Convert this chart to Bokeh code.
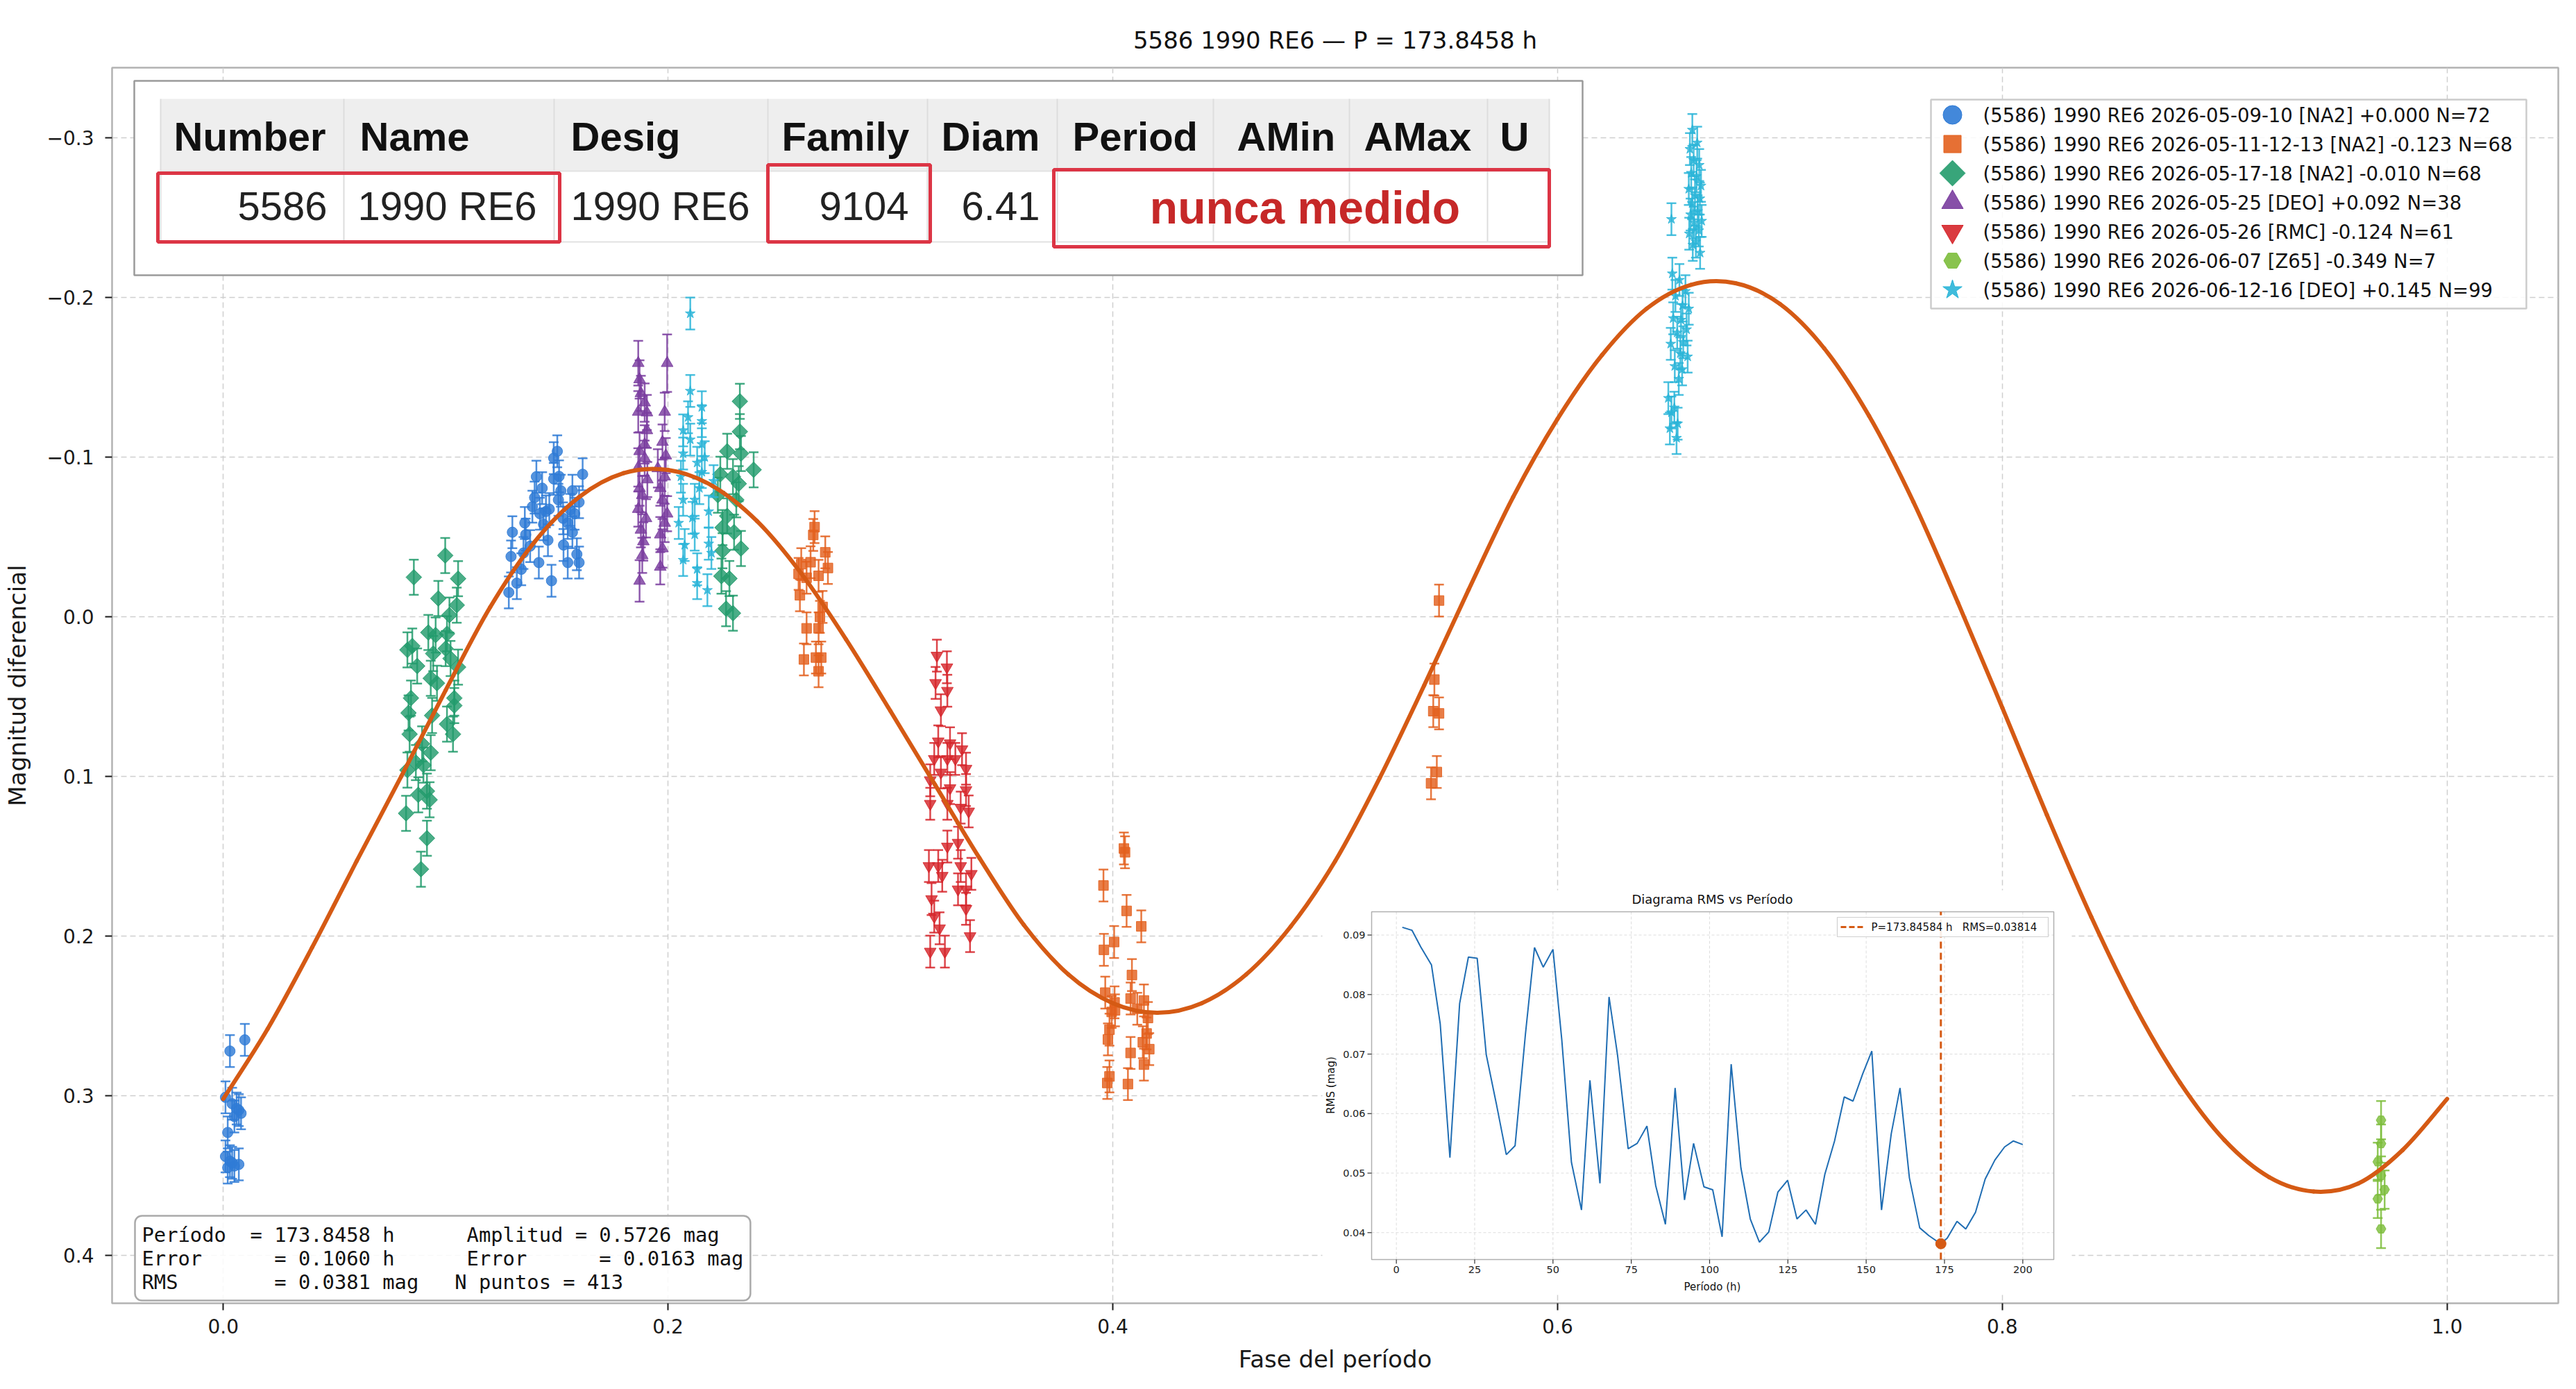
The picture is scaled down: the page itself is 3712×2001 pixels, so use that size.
import numpy as np
from bokeh.plotting import figure
from bokeh.models import Range1d, FixedTicker, Label
from bokeh.core.properties import value
from bokeh.embed import file_html
from bokeh.resources import INLINE

# ------------------------------------------------------------------ data
TITLE = "5586 1990 RE6 — P = 173.8458 h"
X_LABEL = "Fase del período"
Y_LABEL = "Magnitud diferencial"
X_TICKS = [0.0, 0.2, 0.4, 0.6, 0.8, 1.0]
X_TICK_LABELS = ["0.0", "0.2", "0.4", "0.6", "0.8", "1.0"]
Y_TICKS = [-0.3, -0.2, -0.1, 0.0, 0.1, 0.2, 0.3, 0.4]
Y_TICK_LABELS = ["−0.3", "−0.2", "−0.1", "0.0", "0.1", "0.2", "0.3", "0.4"]

BLUE_PHASE = [0.003, 0.0097, 0.001, 0.004, 0.006, 0.008, 0.005, 0.007, 0.002, 0.001, 0.003, 0.005, 0.007, 0.002, 0.004,
              0.1284, 0.132, 0.1294, 0.130, 0.1356, 0.139, 0.140, 0.1408, 0.1434, 0.1419,
              0.1476, 0.1451, 0.1486, 0.1502, 0.1486, 0.1507, 0.1549, 0.1549, 0.157, 0.159,
              0.160, 0.1616, 0.160, 0.157, 0.1528, 0.136, 0.134, 0.138, 0.1424, 0.1466,
              0.1518, 0.158, 0.146, 0.153, 0.144, 0.135, 0.151, 0.156]
BLUE_MAG = [0.272, 0.265, 0.301, 0.305, 0.308, 0.311, 0.313, 0.309, 0.323, 0.338, 0.341, 0.344, 0.343, 0.345, 0.342,
            -0.0153, -0.0211, -0.0378, -0.053, -0.0588, -0.069, -0.0747, -0.0878, -0.0806, -0.034,
            -0.0226, -0.066, -0.0864, -0.1037, -0.0994, -0.0733, -0.0588, -0.034, -0.079, -0.0392,
            -0.034, -0.0893, -0.0718, -0.053, -0.0617, -0.0515, -0.0298, -0.0443, -0.0646, -0.0675,
            -0.079, -0.0646, -0.048, -0.045, -0.058, -0.040, -0.088, -0.067]
BLUE_ERR = 0.010

ORANGE_PHASE = [0.2653, 0.2659, 0.2707, 0.2599, 0.2641, 0.2719, 0.2587, 0.2623, 0.2677, 0.2593, 0.2695, 0.2683,
                0.2623, 0.2677, 0.2611, 0.2665, 0.2689, 0.2677,
                0.4050, 0.3958, 0.4062, 0.4128, 0.3960, 0.4006, 0.4086, 0.3966, 0.4008, 0.4080, 0.4140, 0.4158,
                0.3985, 0.3978, 0.4152, 0.4080, 0.4164, 0.4140, 0.3985, 0.4068, 0.4055, 0.3975, 0.4010, 0.4110,
                0.4135, 0.3995,
                0.5467, 0.5446, 0.5441, 0.5467, 0.5457, 0.5431]
ORANGE_MAG = [-0.0513, -0.0562, -0.0404, -0.0330, -0.0342, -0.0306, -0.0269, -0.0245, -0.0257, -0.0135, -0.0062, 0.0000,
              0.0072, 0.0072, 0.0267, 0.0255, 0.0255, 0.0341,
              0.1451, 0.1683, 0.1842, 0.1939, 0.2086, 0.2037, 0.2244, 0.2354, 0.2415, 0.2391, 0.2403, 0.2513,
              0.2586, 0.2647, 0.2610, 0.2732, 0.2708, 0.2805, 0.2879, 0.2927, 0.1475, 0.2920, 0.2465, 0.2455,
              0.2665, 0.2475,
              -0.0102, 0.0393, 0.0591, 0.0605, 0.0972, 0.1043]
ORANGE_ERR = 0.010

GREEN_PHASE = [0.0998, 0.0857, 0.1056, 0.0967, 0.1050, 0.1017, 0.0922, 0.0955, 0.1006, 0.0828, 0.0850, 0.0944,
               0.1000, 0.1022, 0.0872, 0.1056, 0.0933, 0.0961, 0.0844, 0.1039, 0.0833, 0.0939, 0.1039, 0.1006,
               0.0838, 0.1033, 0.0894, 0.0933, 0.0866, 0.0828, 0.0900, 0.0877, 0.0916, 0.0928, 0.0822, 0.0916, 0.0889,
               0.2323, 0.2323, 0.2266, 0.2328, 0.2385, 0.2235, 0.2292, 0.2318, 0.2224, 0.2307, 0.2266, 0.2245,
               0.2297, 0.2328, 0.2245, 0.2276, 0.2240, 0.2261, 0.2292]
GREEN_MAG = [-0.0384, -0.0248, -0.0239, -0.0115, -0.0073, -0.0011, 0.0098, 0.0114, 0.0106, 0.0207, 0.0183, 0.0230,
             0.0199, 0.0261, 0.0308, 0.0315, 0.0385, 0.0416, 0.0509, 0.0509, 0.0602, 0.0618, 0.0556, 0.0672,
             0.0735, 0.0735, 0.0796, 0.0851, 0.0913, 0.0960, 0.0929, 0.1115, 0.1092, 0.1146, 0.1231, 0.1387, 0.1581,
             -0.1350, -0.1160, -0.1037, -0.1023, -0.0921, -0.0893, -0.0878, -0.0834, -0.0762, -0.0733, -0.0632, -0.0559,
             -0.0530, -0.0428, -0.0414, -0.0240, -0.0255, -0.0051, -0.0023]
GREEN_ERR = 0.011

PURPLE_PHASE = [0.1866, 0.1872, 0.1878, 0.1895, 0.1866, 0.1905, 0.1872, 0.1895, 0.1866, 0.1872, 0.1884, 0.1866,
                0.1901, 0.1878, 0.1889, 0.1884, 0.1872, 0.1905, 0.1895, 0.1907,
                0.1996, 0.1985, 0.1975, 0.1985, 0.1965, 0.1975, 0.1996, 0.1985, 0.1965, 0.1975, 0.1965, 0.1954, 0.1990]
PURPLE_MAG = [-0.1589, -0.1487, -0.1400, -0.1342, -0.1284, -0.1168, -0.1037, -0.0994, -0.0936, -0.0806, -0.0762, -0.0675,
              -0.0617, -0.0545, -0.0472, -0.0385, -0.0225, -0.1280, -0.1080, -0.0860,
              -0.1589, -0.1284, -0.1095, -0.0878, -0.0806, -0.0733, -0.0646, -0.0588, -0.0515, -0.0428, -0.0313, -0.0930, -0.1010]
PURPLE_ERR = [0.014, 0.012, 0.011, 0.012, 0.013, 0.011, 0.012, 0.011, 0.012, 0.011, 0.012, 0.011,
              0.012, 0.011, 0.012, 0.011, 0.013, 0.011, 0.012, 0.011,
              0.018, 0.012, 0.011, 0.012, 0.011, 0.012, 0.011, 0.012, 0.011, 0.012, 0.011, 0.012, 0.011]

RED_PHASE = [0.3209, 0.3254, 0.3203, 0.3256, 0.3227, 0.3215, 0.3268, 0.3322, 0.3197, 0.3256, 0.3292, 0.3340,
             0.3179, 0.3227, 0.3268, 0.3340, 0.3179, 0.3256, 0.3316, 0.3352, 0.3256, 0.3304, 0.3173, 0.3215,
             0.3233, 0.3316, 0.3364, 0.3304, 0.3340, 0.3185, 0.3197, 0.3221, 0.3340, 0.3358, 0.3179, 0.3245]
RED_MAG = [0.0243, 0.0316, 0.0414, 0.0463, 0.0585, 0.0780, 0.0792, 0.0829, 0.0890, 0.0890, 0.0890, 0.0951,
           0.1024, 0.0975, 0.1073, 0.1085, 0.1171, 0.1171, 0.1195, 0.1219, 0.1439, 0.1415, 0.1561, 0.1561,
           0.1622, 0.1561, 0.1610, 0.1707, 0.1707, 0.1768, 0.1878, 0.1951, 0.1829, 0.2000, 0.2097, 0.2097]
RED_ERR = 0.010

LIME_PHASE = [0.9703, 0.9703, 0.9688, 0.9703, 0.9719, 0.9688, 0.9703]
LIME_MAG = [0.3153, 0.3300, 0.3414, 0.3500, 0.3588, 0.3646, 0.3834]
LIME_ERR = 0.012

CYAN_PHASE = [0.2100, 0.2100, 0.2152, 0.2152, 0.2068, 0.2100, 0.2152, 0.2068, 0.2131, 0.2152, 0.2058, 0.2141,
              0.2068, 0.2120, 0.2183, 0.2048, 0.2120, 0.2183, 0.2068, 0.2131, 0.2131, 0.2177, 0.2090, 0.2110,
              0.2165, 0.2075, 0.2205, 0.2195,
              0.6606, 0.6628, 0.6595, 0.6612, 0.6637, 0.6601, 0.6625, 0.6645, 0.6590, 0.6618, 0.6640, 0.6605,
              0.6630, 0.6598, 0.6648, 0.6614, 0.6635, 0.6592, 0.6622, 0.6608, 0.6641, 0.6512,
              0.6516, 0.6548, 0.6575, 0.6530, 0.6562, 0.6590, 0.6520, 0.6555, 0.6580, 0.6538, 0.6565, 0.6509,
              0.6552, 0.6585, 0.6527, 0.6560, 0.6545,
              0.6498, 0.6525, 0.6512, 0.6540, 0.6505, 0.6535]
CYAN_MAG = [-0.1900, -0.1415, -0.1313, -0.1226, -0.1168, -0.1110, -0.1081, -0.1023, -0.0965, -0.0907, -0.0878, -0.0806,
            -0.0733, -0.0733, -0.0660, -0.0588, -0.0515, -0.0458, -0.0356, -0.0298, -0.0211, -0.0167, -0.1250, -0.0620,
            -0.1000, -0.0450, -0.0850, -0.0400,
            -0.305, -0.297, -0.293, -0.286, -0.283, -0.278, -0.276, -0.270, -0.268, -0.264, -0.262, -0.259,
            -0.254, -0.252, -0.248, -0.247, -0.242, -0.240, -0.235, -0.233, -0.228, -0.2491,
            -0.215, -0.211, -0.204, -0.201, -0.195, -0.193, -0.187, -0.186, -0.180, -0.178, -0.172, -0.171,
            -0.165, -0.163, -0.157, -0.155, -0.149,
            -0.137, -0.131, -0.128, -0.121, -0.118, -0.112]
CYAN_ERR = 0.010

# Fitted light curve
FIT_PHASE = [0.00, 0.02, 0.04, 0.06, 0.08, 0.10, 0.12, 0.14, 0.16, 0.18, 0.20, 0.22, 0.24, 0.26, 0.28, 0.30,
             0.32, 0.34, 0.36, 0.38, 0.40, 0.42, 0.44, 0.46, 0.48, 0.50, 0.52, 0.54, 0.56, 0.58, 0.60, 0.62,
             0.64, 0.66, 0.68, 0.70, 0.72, 0.74, 0.76, 0.78, 0.80, 0.82, 0.84, 0.86, 0.88, 0.90, 0.92, 0.94,
             0.96, 0.98, 1.00]
FIT_MAG = [0.302, 0.258, 0.207, 0.153, 0.100, 0.046, -0.006, -0.047, -0.075, -0.090, -0.092, -0.082, -0.060,
           -0.027, 0.014, 0.059, 0.105, 0.151, 0.193, 0.224, 0.242, 0.248, 0.242, 0.224, 0.194, 0.153, 0.101,
           0.043, -0.017, -0.075, -0.124, -0.164, -0.193, -0.208, -0.209, -0.196, -0.168, -0.126, -0.072,
           -0.009, 0.057, 0.124, 0.188, 0.245, 0.292, 0.328, 0.351, 0.360, 0.355, 0.334, 0.302]

LEGEND_LABELS = ["(5586) 1990 RE6 2026-05-09-10 [NA2] +0.000 N=72",
                 "(5586) 1990 RE6 2026-05-11-12-13 [NA2] -0.123 N=68",
                 "(5586) 1990 RE6 2026-05-17-18 [NA2] -0.010 N=68",
                 "(5586) 1990 RE6 2026-05-25 [DEO] +0.092 N=38",
                 "(5586) 1990 RE6 2026-05-26 [RMC] -0.124 N=61",
                 "(5586) 1990 RE6 2026-06-07 [Z65] -0.349 N=7",
                 "(5586) 1990 RE6 2026-06-12-16 [DEO] +0.145 N=99"]

STATS_LINES = ["Período  = 173.8458 h      Amplitud = 0.5726 mag",
               "Error      = 0.1060 h      Error      = 0.0163 mag",
               "RMS        = 0.0381 mag   N puntos = 413"]

TABLE_HEADERS = ["Number", "Name", "Desig", "Family", "Diam", "Period", "AMin", "AMax", "U"]
TABLE_VALUES = ["5586", "1990 RE6", "1990 RE6", "9104", "6.41"]
TABLE_NOTE = "nunca medido"

# RMS vs period scan (inset)
RMS_TITLE = "Diagrama RMS vs Período"
RMS_XLABEL = "Período (h)"
RMS_YLABEL = "RMS (mag)"
RMS_PERIOD = [1.9, 5.0, 7.8, 11.2, 14.0, 17.1, 20.2, 23.0, 25.8, 28.7, 31.9, 35.1, 37.9, 41.2, 44.1, 46.9, 50.0,
              52.8, 55.9, 59.1, 61.8, 65.0, 67.9, 70.6, 74.0, 76.9, 80.0, 82.8, 85.9, 89.0, 92.0, 94.9, 98.2,
              101.0, 104.0, 106.9, 110.0, 113.0, 115.9, 118.9, 121.8, 124.9, 127.9, 130.8, 133.8, 136.8, 139.9,
              143.0, 145.8, 148.9, 151.8, 154.9, 158.0, 160.8, 163.8, 167.1, 170.0, 173.85, 175.9, 179.0, 181.8,
              184.9, 188.0, 191.1, 194.2, 197.0, 200.0]
RMS_VALUE = [0.0913, 0.0908, 0.0880, 0.0850, 0.0751, 0.0526, 0.0785, 0.0863, 0.0861, 0.0699, 0.0617, 0.0531, 0.0546,
             0.0733, 0.0879, 0.0846, 0.0876, 0.0725, 0.0518, 0.0438, 0.0656, 0.0483, 0.0796, 0.0699, 0.0541, 0.0550,
             0.0579, 0.0479, 0.0414, 0.0643, 0.0455, 0.0550, 0.0477, 0.0472, 0.0393, 0.0683, 0.0509, 0.0423, 0.0384,
             0.0401, 0.0468, 0.0488, 0.0423, 0.0438, 0.0414, 0.0498, 0.0554, 0.0628, 0.0621, 0.0667, 0.0705, 0.0438,
             0.0566, 0.0643, 0.0492, 0.0408, 0.0395, 0.0381, 0.0391, 0.0419, 0.0406, 0.0434, 0.0490, 0.0522, 0.0544,
             0.0554, 0.0548]
BEST_PERIOD = 173.84584
BEST_RMS = 0.03814
RMS_LEGEND = "P=173.84584 h   RMS=0.03814"
RMS_X_TICKS = [0, 25, 50, 75, 100, 125, 150, 175, 200]
RMS_X_TICK_LABELS = ["0", "25", "50", "75", "100", "125", "150", "175", "200"]
RMS_Y_TICKS = [0.04, 0.05, 0.06, 0.07, 0.08, 0.09]
RMS_Y_TICK_LABELS = ["0.04", "0.05", "0.06", "0.07", "0.08", "0.09"]
RMS_XLIM = (-7.9, 209.9)
RMS_YLIM = (0.03548, 0.09391)

NBSP = "\u00a0"

# ------------------------------------------------------------------ layout
W, H = 3712, 2001
FL, FR, FT, FB = 161, 3686, 97, 1877          # plot frame in page pixels
FONT = "DejaVu Sans"

p = figure(width=W, height=H, output_backend="svg", toolbar_location=None,
           x_range=Range1d(-0.05, 1.05), y_range=Range1d(0.430, -0.344),
           min_border_left=FL, min_border_right=W - FR, min_border_top=FT, min_border_bottom=H - FB,
           background_fill_color="white", border_fill_color="white")

# pixel ranges for decorations (identity mapping onto the frame)
p.extra_x_ranges["px"] = Range1d(FL, FR)
p.extra_y_ranges["py"] = Range1d(FB, FT)

# inset axes ranges, placed so that the inset data box lands at the inset position
IAX_L, IAX_R, IAX_T, IAX_B = 1976, 2959, 1313, 1814
sx = (RMS_XLIM[1] - RMS_XLIM[0]) / (IAX_R - IAX_L)
sy = (RMS_YLIM[1] - RMS_YLIM[0]) / (IAX_B - IAX_T)
p.extra_x_ranges["rx"] = Range1d(RMS_XLIM[0] - (IAX_L - FL) * sx, RMS_XLIM[1] + (FR - IAX_R) * sx)
p.extra_y_ranges["ry"] = Range1d(RMS_YLIM[0] - (FB - IAX_B) * sy, RMS_YLIM[1] + (IAX_T - FT) * sy)

p.title.text = TITLE
p.title.align = "center"
p.title.text_font = FONT
p.title.text_font_size = "34px"
p.title.text_font_style = "normal"
p.title.text_color = "#111111"
p.title.standoff = 39

p.xaxis.axis_label = X_LABEL
p.yaxis.axis_label = Y_LABEL
p.xaxis.ticker = FixedTicker(ticks=X_TICKS)
p.yaxis.ticker = FixedTicker(ticks=Y_TICKS)
p.xaxis.major_label_overrides = {t: l for t, l in zip(X_TICKS, X_TICK_LABELS)}
p.yaxis.major_label_overrides = {t: l for t, l in zip(Y_TICKS, Y_TICK_LABELS)}
for ax in (p.xaxis[0], p.yaxis[0]):
    ax.major_label_text_font = FONT
    ax.major_label_text_font_size = "28px"
    ax.major_label_text_color = "#1a1a1a"
    ax.axis_label_text_font = FONT
    ax.axis_label_text_font_size = "34px"
    ax.axis_label_text_font_style = "normal"
    ax.axis_label_text_color = "#1a1a1a"
    ax.axis_line_color = None
    ax.major_tick_line_color = "#1a1a1a"
    ax.major_tick_line_width = 2
    ax.major_tick_in = 0
    ax.major_tick_out = 10
    ax.minor_tick_line_color = None
p.xaxis.major_label_standoff = 12
p.xaxis.axis_label_standoff = 14
p.yaxis.major_label_standoff = 16
p.yaxis.axis_label_standoff = 20

p.xgrid.ticker = FixedTicker(ticks=X_TICKS)
p.ygrid.ticker = FixedTicker(ticks=Y_TICKS)
p.grid.grid_line_color = "#cfcfcf"
p.grid.grid_line_dash = "8 5"
p.grid.grid_line_width = 1.5
p.outline_line_color = "#b3b3b3"
p.outline_line_width = 2.5

# ------------------------------------------------------------------ data series with error bars
SERIES = [
    (BLUE_PHASE, BLUE_MAG, BLUE_ERR, "#2f7bd6", "circle", 15, 0.0, 27),
    (ORANGE_PHASE, ORANGE_MAG, ORANGE_ERR, "#e3601e", "square", 14, 0.0, 25),
    (GREEN_PHASE, GREEN_MAG, GREEN_ERR, "#229b6c", "square", 16, np.pi / 4, 26),
    (PURPLE_PHASE, PURPLE_MAG, PURPLE_ERR, "#7a3d9f", "triangle", 17, 0.0, 31),
    (RED_PHASE, RED_MAG, RED_ERR, "#d6262b", "inverted_triangle", 17, 0.0, 31),
    (LIME_PHASE, LIME_MAG, LIME_ERR, "#7cbd3b", "hex", 14, 0.0, 25),
    (CYAN_PHASE, CYAN_MAG, CYAN_ERR, "#2bb5d8", "star", 15, 0.0, 29),
]
for ph, mg, er, col, mk, sz, ang, _ in SERIES:
    ph = np.asarray(ph, dtype=float)
    mg = np.asarray(mg, dtype=float)
    er = np.broadcast_to(np.asarray(er, dtype=float), ph.shape)
    p.segment(x0=ph, y0=mg - er, x1=ph, y1=mg + er, line_color=col, line_width=2.5, line_alpha=0.85)
    p.scatter(x=np.concatenate([ph, ph]), y=np.concatenate([mg - er, mg + er]), marker="dash",
              size=14, line_color=col, line_width=2.5, line_alpha=0.85)
    p.scatter(x=ph, y=mg, marker=mk, size=sz, angle=ang, fill_color=col, fill_alpha=0.82,
              line_color=col, line_alpha=0.9, line_width=1)

# fitted curve drawn as a smooth (Catmull-Rom style) bezier path through the read points
fx = np.asarray(FIT_PHASE, dtype=float)
fy = np.asarray(FIT_MAG, dtype=float)
n = len(fx)
xp = np.concatenate([[fx[0]], fx, [fx[-1]]])
yp = np.concatenate([[fy[0]], fy, [fy[-1]]])
p.bezier(x0=fx[:-1], y0=fy[:-1], x1=fx[1:], y1=fy[1:],
         cx0=fx[:-1] + (xp[2:n + 1] - xp[0:n - 1]) / 6, cy0=fy[:-1] + (yp[2:n + 1] - yp[0:n - 1]) / 6,
         cx1=fx[1:] - (xp[3:n + 2] - xp[1:n]) / 6, cy1=fy[1:] - (yp[3:n + 2] - yp[1:n]) / 6,
         line_color="#d55a14", line_width=6, line_cap="round")


def ptext(xs, ys, texts, size, font=FONT, align="left", baseline="middle", color="#111111",
          style="normal", angle=0.0, xr="px", yr="py"):
    p.text(x=xs, y=ys, text=texts, x_range_name=xr, y_range_name=yr, text_font=value(font),
           text_font_size=size, text_font_style=style, text_align=align, text_baseline=baseline,
           text_color=color, angle=angle)


# ------------------------------------------------------------------ table inset (top left)
COL_EDGES = [231, 495, 798, 1106, 1336, 1523, 1748, 1944, 2143, 2232]
HEAD_X = [250, 518, 822, 1126, 1356, 1545, 1782, 1965, 2161]
p.quad(left=[193], right=[2280], top=[116], bottom=[396], x_range_name="px", y_range_name="py",
       fill_color="white", line_color="#9a9a9a", line_width=2.5)
p.quad(left=[231], right=[2232], top=[142], bottom=[246], x_range_name="px", y_range_name="py",
       fill_color="#eeeeee", line_color=None)
p.segment(x0=COL_EDGES, y0=[142] * len(COL_EDGES), x1=COL_EDGES, y1=[348] * len(COL_EDGES),
          x_range_name="px", y_range_name="py", line_color="#dddddd", line_width=2)
p.segment(x0=[231, 231], y0=[246, 348], x1=[2232, 2232], y1=[246, 348],
          x_range_name="px", y_range_name="py", line_color="#e2e2e2", line_width=2)
ptext(HEAD_X, [196] * len(HEAD_X), TABLE_HEADERS, "58px", font="Liberation Sans", baseline="middle",
      style="bold", color="#111111")
ptext([471, 1309, 1498], [296] * 3, [TABLE_VALUES[0], TABLE_VALUES[3], TABLE_VALUES[4]], "58px",
      font="Liberation Sans", align="right", baseline="middle", color="#222222")
ptext([515, 822], [296] * 2, [TABLE_VALUES[1], TABLE_VALUES[2]], "58px",
      font="Liberation Sans", align="left", baseline="middle", color="#222222")
ptext([1880], [298], [TABLE_NOTE], "66px", font="Liberation Sans", align="center", baseline="middle",
      style="bold", color="#c62828")
p.quad(left=[227, 1106, 1518], right=[806, 1340, 2232], top=[249, 237, 244], bottom=[348, 348, 355],
       x_range_name="px", y_range_name="py", fill_color=None, line_color="#dc3545", line_width=5)

# ------------------------------------------------------------------ legend (top right)
LEG_Y = [165, 207, 249, 291, 333, 375, 417]
p.quad(left=[2782], right=[3640], top=[143], bottom=[444], x_range_name="px", y_range_name="py",
       fill_color="white", fill_alpha=0.85, line_color="#cccccc", line_width=2.5)
p.scatter(x=[2813] * 7, y=LEG_Y, x_range_name="px", y_range_name="py",
          marker=[s[4] for s in SERIES], size=[s[7] for s in SERIES], angle=[s[6] for s in SERIES],
          fill_color=[s[3] for s in SERIES], line_color=[s[3] for s in SERIES], fill_alpha=0.9)
ptext([2857] * 7, LEG_Y, LEGEND_LABELS, "27.5px", color="#111111")

# ------------------------------------------------------------------ stats box (bottom left)
stats = Label(x=194, y=1751, x_range_name="px", y_range_name="py",
              text="\n".join(s.replace(" ", NBSP) for s in STATS_LINES),
              text_font="DejaVu Sans Mono", text_font_size="28.8px", text_color="#111111",
              text_align="left", text_baseline="top", text_line_height=1.0,
              background_fill_color="white", background_fill_alpha=0.85,
              border_line_color="#aaaaaa", border_line_width=2.5, border_radius=10, padding=10)
p.add_layout(stats)

# ------------------------------------------------------------------ RMS vs period inset
p.quad(left=[1905], right=[2985], top=[1282], bottom=[1863], x_range_name="px", y_range_name="py",
       fill_color="white", line_color=None)
xlo, xhi = RMS_XLIM
ylo, yhi = RMS_YLIM
n_xt, n_yt = len(RMS_X_TICKS), len(RMS_Y_TICKS)
p.segment(x0=RMS_X_TICKS, y0=[ylo] * n_xt, x1=RMS_X_TICKS, y1=[yhi] * n_xt, x_range_name="rx", y_range_name="ry",
          line_color="#dddddd", line_dash="4 3", line_width=1)
p.segment(x0=[xlo] * n_yt, y0=RMS_Y_TICKS, x1=[xhi] * n_yt, y1=RMS_Y_TICKS, x_range_name="rx", y_range_name="ry",
          line_color="#dddddd", line_dash="4 3", line_width=1)
p.quad(left=[xlo], right=[xhi], top=[yhi], bottom=[ylo], x_range_name="rx", y_range_name="ry",
       fill_color=None, line_color="#b0b0b0", line_width=1.5)
p.segment(x0=RMS_X_TICKS, y0=[ylo] * n_xt, x1=RMS_X_TICKS, y1=[ylo - 6 * sy] * n_xt,
          x_range_name="rx", y_range_name="ry", line_color="#333333", line_width=1.2)
p.segment(x0=[xlo] * n_yt, y0=RMS_Y_TICKS, x1=[xlo - 6 * sx] * n_yt, y1=RMS_Y_TICKS,
          x_range_name="rx", y_range_name="ry", line_color="#333333", line_width=1.2)
ptext(RMS_X_TICKS, [ylo - 9 * sy] * n_xt, RMS_X_TICK_LABELS, "14.5px", align="center", baseline="top",
      color="#222222", xr="rx", yr="ry")
ptext([xlo - 9 * sx] * n_yt, RMS_Y_TICKS, RMS_Y_TICK_LABELS, "14.5px", align="right", baseline="middle",
      color="#222222", xr="rx", yr="ry")
p.line(x=RMS_PERIOD, y=RMS_VALUE, x_range_name="rx", y_range_name="ry", line_color="#1f6db3", line_width=2)
p.segment(x0=[BEST_PERIOD], y0=[ylo], x1=[BEST_PERIOD], y1=[yhi], x_range_name="rx", y_range_name="ry",
          line_color="#d55a14", line_width=3, line_dash="10 6")
p.scatter(x=[BEST_PERIOD], y=[BEST_RMS], x_range_name="rx", y_range_name="ry", marker="circle", size=15,
          fill_color="#d55a14", line_color="#d55a14")
ptext([2467], [1295], [RMS_TITLE], "18px", align="center", baseline="middle", color="#111111")
ptext([2467], [1853], [RMS_XLABEL], "15px", align="center", baseline="middle", color="#111111")
ptext([1917], [1563], [RMS_YLABEL], "15px", align="center", baseline="middle", color="#111111", angle=np.pi / 2)
p.quad(left=[2647], right=[2951], top=[1321], bottom=[1349], x_range_name="px", y_range_name="py",
       fill_color="white", fill_alpha=0.9, line_color="#d0d0d0", line_width=1.2)
p.segment(x0=[2652], y0=[1335], x1=[2684], y1=[1335], x_range_name="px", y_range_name="py",
          line_color="#d55a14", line_width=3, line_dash="8 4")
ptext([2696], [1335], [RMS_LEGEND.replace(" ", NBSP)], "15px", align="left", baseline="middle", color="#111111")

open("out.html", "w").write(file_html(p, INLINE))
